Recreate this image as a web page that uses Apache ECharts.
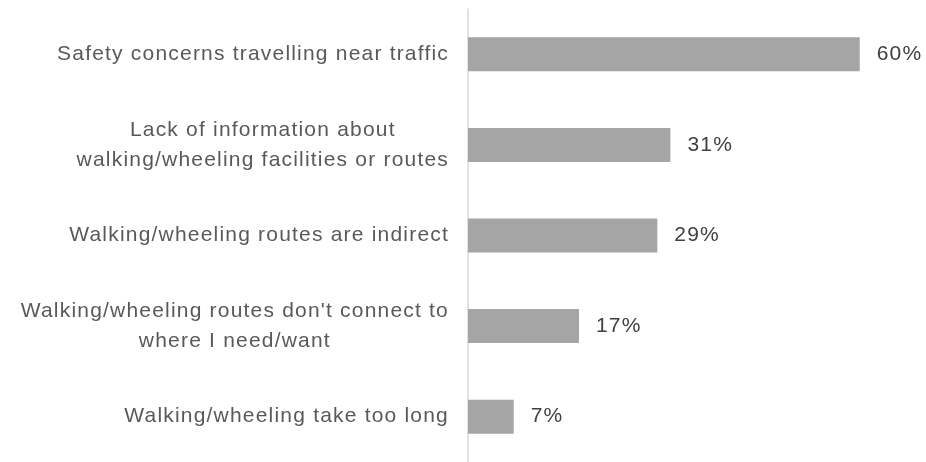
<!DOCTYPE html>
<html>
<head>
<meta charset="utf-8">
<script src="https://cdn.jsdelivr.net/npm/echarts@6/dist/echarts.min.js"></script>
<style>
  html, body { margin: 0; padding: 0; background: #ffffff; }
  #chart { width: 926px; height: 462px; }
</style>
</head>
<body>
<div id="chart"></div>
<script>
// Barriers to walking/wheeling, share of respondents (%)
const categories = [
  'Safety concerns travelling near traffic',
  'Lack of information about\nwalking/wheeling facilities or routes',
  'Walking/wheeling routes are indirect',
  "Walking/wheeling routes don't connect to\nwhere I need/want",
  'Walking/wheeling take too long'
];
const values = [60, 31, 29, 17, 7];

// Slightly open tracking for all chart text: whenever a canvas font is set,
// apply the same letter spacing so measuring and drawing agree.
const TRACKING = '1.2px';
(function () {
  const proto = CanvasRenderingContext2D.prototype;
  const desc = Object.getOwnPropertyDescriptor(proto, 'font');
  if (desc && 'letterSpacing' in proto) {
    Object.defineProperty(proto, 'font', {
      configurable: true,
      get() { return desc.get.call(this); },
      set(v) { desc.set.call(this, v); this.letterSpacing = TRACKING; }
    });
  }
})();

const FONT = 'Liberation Sans, Arial, sans-serif';
const chart = echarts.init(document.getElementById('chart'));

chart.setOption({
  animation: false,
  backgroundColor: '#ffffff',
  grid: { left: 468, top: 9, height: 457.5, right: 1, containLabel: false },
  xAxis: {
    type: 'value',
    min: 0,
    max: 70,
    show: false
  },
  yAxis: {
    type: 'category',
    data: categories,
    inverse: true,
    axisLine: { show: true, lineStyle: { color: '#d9d9d9', width: 1.5 } },
    axisTick: { show: false },
    splitLine: { show: false },
    axisLabel: {
      margin: 19,
      // each line centred within its own label block
      formatter: v => v.split('\n').map(l => '{c|' + l + '}').join('\n'),
      rich: {
        c: {
          align: 'center',
          fontFamily: FONT,
          fontSize: 21,
          color: '#595959',
          lineHeight: 30
        }
      }
    }
  },
  series: [{
    type: 'bar',
    data: values,
    barWidth: 34,
    itemStyle: { color: '#a5a5a5' },
    label: {
      show: true,
      position: 'right',
      distance: 17,
      formatter: p => p.value + '%',
      fontFamily: FONT,
      fontSize: 21,
      color: '#404040'
    }
  }]
});
</script>
</body>
</html>
